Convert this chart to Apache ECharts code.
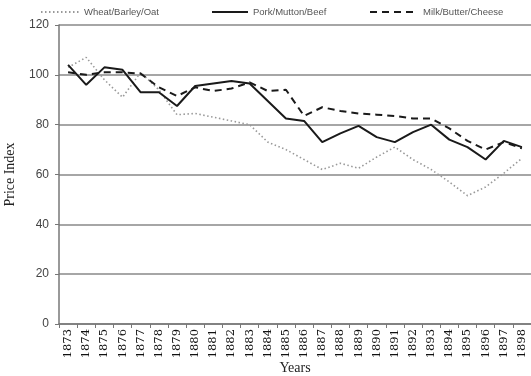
<!DOCTYPE html>
<html>
<head>
<meta charset="utf-8">
<script src="https://cdn.jsdelivr.net/npm/echarts@6/dist/echarts.min.js"></script>
<style>
  html, body { margin: 0; padding: 0; background: #fff; }
  #chart { width: 531px; height: 376px; }
</style>
</head>
<body>
<div id="chart"></div>
<script>
  const years = ['1873','1874','1875','1876','1877','1878','1879','1880','1881','1882','1883','1884','1885',
    '1886','1887','1888','1889','1890','1891','1892','1893','1894','1895','1896','1897','1898'];
  const wheat = [103, 107, 98, 91, 101, 94, 84, 84.5, 83, 81.5, 80, 73, 70, 66, 62, 64.5, 62.5, 67, 71, 66, 62, 57, 51.5, 55, 60.5, 66.5];
  const pork = [104, 96, 103, 102, 93, 93, 87.5, 95.5, 96.5, 97.5, 96.5, 89.5, 82.5, 81.5, 73, 76.5, 79.5, 75, 73, 77, 80, 74, 71, 66, 73.5, 71];
  const milk = [101, 100, 101, 101, 100.5, 95, 91.5, 95, 93.5, 94.5, 97, 93.5, 94, 83.5, 87, 85.5, 84.5, 84, 83.5, 82.5, 82.5, 78.5, 73.5, 70, 73, 70.5];
  const yTicks = [0, 20, 40, 60, 80, 100, 120];

  const myEcharts = echarts.init(document.getElementById('chart'));
  const legendText = { color: '#555', fontSize: 9.5, fontFamily: 'Liberation Sans', padding: [0, 0, 0, 0] };
  const noSymbol = { opacity: 0 };
  const options = {
    animation: false,
    legend: [
      { data: ['Wheat/Barley/Oat'], left: 40, top: 7, itemWidth: 38, itemHeight: 8, padding: 0, itemStyle: noSymbol, textStyle: legendText },
      { data: ['Pork/Mutton/Beef'], left: 211, top: 7, itemWidth: 36, itemHeight: 8, padding: 0, itemStyle: noSymbol, textStyle: legendText },
      { data: ['Milk/Butter/Cheese'], left: 369, top: 7, itemWidth: 48, itemHeight: 8, padding: 0, itemStyle: noSymbol, textStyle: legendText }
    ],
    grid: { left: 59, right: 0, top: 25, bottom: 52, containLabel: false, outerBoundsMode: 'none' },
    xAxis: {
      type: 'category',
      data: years,
      boundaryGap: true,
      name: 'Years',
      nameLocation: 'middle',
      nameGap: 37,
      nameMoveOverlap: false,
      nameTextStyle: { fontFamily: 'Liberation Serif', fontSize: 14, color: '#222' },
      axisLine: { lineStyle: { color: '#777', width: 1.5 } },
      axisTick: { show: true, alignWithLabel: false, length: 4, lineStyle: { color: '#777' } },
      axisLabel: { rotate: 90, interval: 0, fontFamily: 'DejaVu Serif', fontSize: 11.5, color: '#111', margin: 5 }
    },
    yAxis: {
      type: 'value',
      min: 0,
      max: 120,
      interval: 20,
      name: 'Price Index',
      nameLocation: 'middle',
      nameGap: 42,
      nameTextStyle: { fontFamily: 'Liberation Serif', fontSize: 14, color: '#222' },
      axisLine: { show: true, lineStyle: { color: '#777', width: 1.5 } },
      axisTick: { show: true, length: 4, lineStyle: { color: '#777' } },
      splitLine: { lineStyle: { color: '#888', width: 1.5 } },
      axisLabel: {
        fontFamily: 'Liberation Sans Narrow, Liberation Sans', fontSize: 12, color: '#444', margin: 10,
        formatter: function (v) { return yTicks.indexOf(v) >= 0 ? String(v) : ''; }
      }
    },
    series: [
      {
        name: 'Wheat/Barley/Oat', type: 'line', data: wheat, symbol: 'none',
        lineStyle: { color: '#999', width: 1.6, type: [1.5, 2.5] }, itemStyle: { color: '#999' }
      },
      {
        name: 'Pork/Mutton/Beef', type: 'line', data: pork, symbol: 'none',
        lineStyle: { color: '#1a1a1a', width: 2 }, itemStyle: { color: '#1a1a1a' }
      },
      {
        name: 'Milk/Butter/Cheese', type: 'line', data: milk, symbol: 'none',
        lineStyle: { color: '#1a1a1a', width: 2, type: [7, 5] }, itemStyle: { color: '#1a1a1a' }
      }
    ]
  };
  myEcharts.setOption(options, true);
</script>
</body>
</html>
